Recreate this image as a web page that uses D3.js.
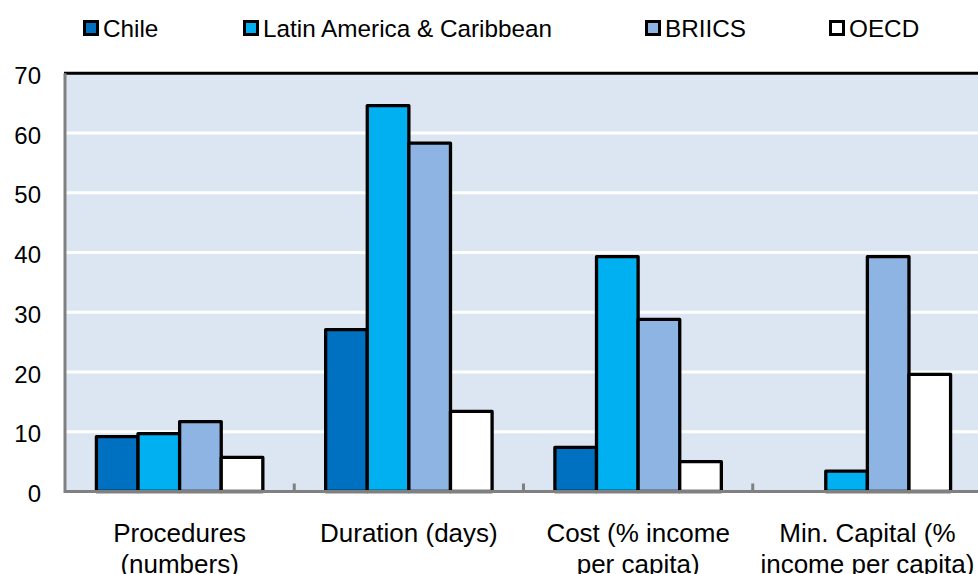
<!DOCTYPE html>
<html>
<head>
<meta charset="utf-8">
<script src="https://cdn.jsdelivr.net/npm/d3@7/dist/d3.min.js"></script>
<style>
  html, body { margin: 0; padding: 0; background: #ffffff; }
  svg { display: block; }
  text { font-family: "Liberation Sans", Arial, sans-serif; fill: #000; }
</style>
</head>
<body>
<svg id="chart" width="978" height="574"></svg>
<script>
// Business start-up indicators by group
const categories = [
  ["Procedures", "(numbers)"],
  ["Duration (days)"],
  ["Cost (% income", "per capita)"],
  ["Min. Capital (%", "income per capita)"]
];
const seriesNames = ["Chile", "Latin America & Caribbean", "BRIICS", "OECD"];
const chile   = [9.2, 27.1, 7.4, null];
const latam   = [9.7, 64.6, 39.3, 3.4];
const briics  = [11.7, 58.3, 28.8, 39.3];
const oecd    = [5.7, 13.4, 5.0, 19.6];
const yTicks  = [0, 10, 20, 30, 40, 50, 60, 70];
const colors  = ["#0070c0", "#00b0f0", "#8db4e2", "#ffffff"];

const seriesValues = [chile, latam, briics, oecd];

const svg = d3.select("#chart");
const plot = { left: 65, right: 982, top: 73.3, bottom: 491.5 };

const catKeys = categories.map((c, i) => i);
const x = d3.scaleBand().domain(catKeys).range([plot.left, plot.right]).paddingInner(0).paddingOuter(0);
const bw = x.bandwidth();
const xs = d3.scaleBand().domain(seriesNames).range([bw * 0.137, bw * 0.863]).padding(0);
const y = d3.scaleLinear().domain([0, 70]).range([plot.bottom, plot.top]);
const color = d3.scaleOrdinal().domain(seriesNames).range(colors);

// plot background
svg.append("rect")
  .attr("x", plot.left).attr("y", plot.top)
  .attr("width", plot.right - plot.left).attr("height", plot.bottom - plot.top)
  .attr("fill", "#dce6f2");

// horizontal gridlines
svg.append("g").selectAll("line")
  .data(yTicks.filter(t => t > 0 && t < 70))
  .join("line")
  .attr("x1", plot.left).attr("x2", plot.right)
  .attr("y1", d => y(d)).attr("y2", d => y(d))
  .attr("stroke", "#ffffff").attr("stroke-width", 3);

// bars
const rows = [];
categories.forEach((c, ci) => {
  seriesNames.forEach((s, si) => {
    const v = seriesValues[si][ci];
    if (v !== null) rows.push({ ci, s, v });
  });
});
svg.append("g").selectAll("rect")
  .data(rows)
  .join("rect")
  .attr("x", d => x(d.ci) + xs(d.s))
  .attr("width", xs.bandwidth())
  .attr("y", d => y(d.v))
  .attr("height", d => y(0) - y(d.v))
  .attr("fill", d => color(d.s))
  .attr("stroke", "#000").attr("stroke-width", 3.3)
  .attr("stroke-linejoin", "round");

// frame: black top border, grey left and bottom axes
svg.append("line")
  .attr("x1", plot.left - 1).attr("x2", plot.right)
  .attr("y1", plot.top).attr("y2", plot.top)
  .attr("stroke", "#000").attr("stroke-width", 3);
svg.append("line")
  .attr("x1", plot.left).attr("x2", plot.left)
  .attr("y1", plot.top).attr("y2", plot.bottom + 1.5)
  .attr("stroke", "#808080").attr("stroke-width", 3);

// x axis with ticks between categories
const xAxisG = svg.append("g").attr("transform", `translate(0,${plot.bottom})`);
xAxisG.append("line")
  .attr("x1", plot.left).attr("x2", plot.right)
  .attr("stroke", "#808080").attr("stroke-width", 3);
xAxisG.selectAll("line.tick")
  .data(catKeys.slice(1))
  .join("line")
  .attr("class", "tick")
  .attr("x1", d => x(d)).attr("x2", d => x(d))
  .attr("y1", -8).attr("y2", 0)
  .attr("stroke", "#808080").attr("stroke-width", 3);

// category labels (second line runs to the bottom edge)
const catLabels = svg.append("g");
categories.forEach((lines, ci) => {
  const t = catLabels.append("text")
    .attr("text-anchor", "middle")
    .attr("font-size", 26)
    .attr("x", x(ci) + bw / 2)
    .attr("y", 542);
  lines.forEach((ln, li) => {
    t.append("tspan")
      .attr("x", x(ci) + bw / 2)
      .attr("dy", li === 0 ? 0 : 30.5)
      .text(ln);
  });
});

// y axis labels
const yAxis = d3.axisLeft(y).tickValues(yTicks).tickSize(0).tickPadding(0);
const yG = svg.append("g").attr("transform", "translate(41,0)").call(yAxis);
yG.select(".domain").remove();
yG.selectAll("text")
  .attr("font-size", 24)
  .attr("font-family", "Liberation Sans, Arial, sans-serif")
  .attr("fill", "#000")
  .attr("dy", "0.42em");

// legend
const legendX = [84.5, 244.5, 646.5, 830.5];
const legend = svg.append("g");
seriesNames.forEach((s, i) => {
  legend.append("rect")
    .attr("x", legendX[i]).attr("y", 21.5)
    .attr("width", 13).attr("height", 13)
    .attr("fill", color(s))
    .attr("stroke", "#000").attr("stroke-width", 3);
  legend.append("text")
    .attr("x", legendX[i] + 18.5).attr("y", 36.5)
    .attr("font-size", 24.3)
    .text(s);
});
</script>
</body>
</html>
